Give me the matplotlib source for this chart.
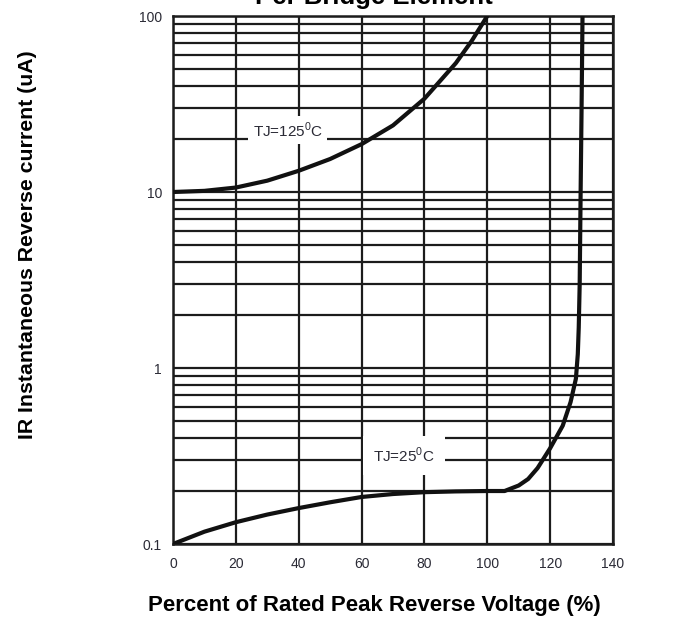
import matplotlib.pyplot as plt
from matplotlib.ticker import FixedLocator, NullFormatter, LogLocator

plt.rcParams['font.family'] = ['Liberation Sans', 'DejaVu Sans']
plt.rcParams['mathtext.fontset'] = 'custom'
plt.rcParams['mathtext.rm'] = 'Liberation Sans'

# values
voltage_125 = [0, 10, 20, 30, 40, 50, 60, 70, 80, 90, 95, 100]
current_125 = [10, 10.15, 10.6, 11.6, 13.2, 15.4, 18.7, 23.9, 33.9, 54, 72, 100]

voltage_25 = [0, 10, 20, 30, 40, 50, 60, 70, 80, 90, 100, 105.5,
              110, 113, 116, 120, 124, 126.5, 128.2, 128.8, 129.1,
              129.4, 129.7, 130, 130.3]
current_25 = [0.1, 0.1175, 0.133, 0.147, 0.16, 0.1726, 0.185, 0.1923, 0.197,
              0.199, 0.2, 0.2, 0.215, 0.234, 0.27, 0.35, 0.47, 0.64, 0.87,
              1.2, 1.7, 3, 10, 30, 100]

x_ticks = [0, 20, 40, 60, 80, 100, 120, 140]
y_ticks = [0.1, 1, 10, 100]
y_tick_labels = ['0.1', '1', '10', '100']

ink = '#1c1c1c'
label_ink = '#2a2a35'

fig = plt.figure(figsize=(6.92, 6.21), dpi=100)
ax = fig.add_axes([173 / 692, 1 - 544 / 621, 440 / 692, 528 / 621])

ax.plot(voltage_125, current_125, color='#111111', linewidth=3.0, zorder=3)
ax.plot(voltage_25, current_25, color='#111111', linewidth=3.0, zorder=3)

ax.set_yscale('log')
ax.set_xlim(0, 140)
ax.set_ylim(0.1, 100)

ax.xaxis.set_major_locator(FixedLocator(x_ticks))
ax.yaxis.set_major_locator(FixedLocator(y_ticks))
ax.set_yticklabels(y_tick_labels)
ax.yaxis.set_minor_locator(LogLocator(base=10, subs=range(2, 10)))
ax.yaxis.set_minor_formatter(NullFormatter())

ax.tick_params(axis='both', which='both', length=0, labelsize=10,
               labelcolor=label_ink)
ax.tick_params(axis='y', pad=8)
ax.tick_params(axis='x', pad=9)

ax.grid(True, which='both', axis='y', color=ink, linewidth=1.6)
ax.grid(True, which='major', axis='x', color=ink, linewidth=1.6)
ax.set_axisbelow(True)
for s in ax.spines.values():
    s.set_color(ink)
    s.set_linewidth(1.8)

ax.text(36.5, 22.5, r'TJ=125$^\mathregular{0}$C', fontsize=11, color=label_ink,
        ha='center', va='center', zorder=4,
        bbox=dict(facecolor='white', edgecolor='none', pad=3))
ax.text(73.5, 0.32, r'TJ=25$^\mathregular{0}$C', fontsize=11, color=label_ink,
        ha='center', va='center', zorder=4,
        bbox=dict(facecolor='white', edgecolor='none', pad=7))

# title sits mostly above the image edge, as in the reference
fig.text(374 / 692, 1 - 4 / 621, 'Per Bridge Element', fontsize=18.5,
         fontweight='bold', ha='center', va='baseline')
fig.text(374 / 692, 1 - 605 / 621, 'Percent of Rated Peak Reverse Voltage (%)',
         fontsize=16, fontweight='bold', ha='center', va='center')
fig.text(28 / 692, 1 - 245 / 621, 'IR Instantaneous Reverse current (uA)',
         fontsize=15.3, fontweight='bold', ha='center', va='center', rotation=90)

fig.savefig('out.png', dpi=100)
